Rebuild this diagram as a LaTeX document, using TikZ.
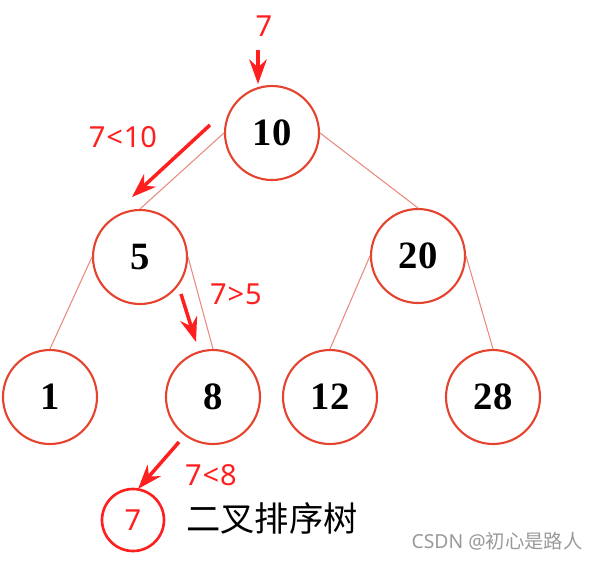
\documentclass[tikz,border=0pt]{standalone}
\usepackage{fontspec}
\setmainfont{Liberation Serif}
\newfontfamily\labfont{Noto Sans}
\newfontfamily\cjk{Noto Sans CJK SC}
\usepackage{tikz}
\usetikzlibrary{arrows.meta}
\definecolor{circred}{HTML}{E6432F}
\definecolor{linkred}{HTML}{E98A7E}
\definecolor{arrred}{HTML}{FF1F1F}

\begin{document}
\begin{tikzpicture}[
		key/.style={circle, draw=circred, line width=1.2pt, minimum size=1.88cm, inner sep=0pt, font=\bfseries\fontsize{22}{22}\selectfont},
		link/.style={draw=linkred, line width=0.6pt},
		cmp/.style={text=arrred, font=\labfont\fontsize{16.5}{16.5}\selectfont},
		go/.style={arrred, line width=2pt, -{Stealth[length=14pt,width=10pt]}}
	]
		\useasboundingbox (0,0) rectangle (11.98,-11.22);
		\node[key] (N10) at (5.44, -2.66) {10};
		\node[key] (N5) at (2.80, -5.14) {5}; \node[key] (N20) at (8.36, -5.12) {20};
		\node[key] (N1) at (1.00, -7.94) {1}; \node[key] (N8) at (4.26, -7.94) {8};
		\node[key] (N12) at (6.60, -7.94) {12}; \node[key] (N28) at (9.86, -7.94) {28};
		%
		\node[circle, draw=arrred, line width=1.5pt, minimum size=1.24cm, inner sep=0pt, cmp] (N7) at (2.66, -10.40) {7}; % Inserted key
		\node[font=\cjk\fontsize{19.5}{19.5}\selectfont] (title) at (5.44, -10.36) {二叉排序树};
		\node[text=black!40, font=\labfont\fontsize{11}{11}\selectfont] (mark) at (9.94, -10.82) {CSDN @\cjk 初心是路人};
		%
		\node[cmp] (L1) at (5.28, -0.52) {7};
		\node[cmp] (L2) at (2.46, -2.74) {7\kern.5pt<\kern.5pt10};
		\node[cmp] (L3) at (4.72, -5.88) {7\kern.5pt>\kern.5pt5};
		\node[cmp] (L4) at (4.22, -9.50) {7\kern.5pt<\kern.5pt8};
		% Search path
		\coordinate (A1) at (5.16, -1.00); \coordinate (B1) at (5.16, -1.68);
		\coordinate (A2) at (4.20, -2.50); \coordinate (B2) at (2.64, -3.94);
		\coordinate (A3) at (3.62, -5.88); \coordinate (B3) at (3.92, -6.84);
		\coordinate (A4) at (3.58, -8.84); \coordinate (B4) at (2.76, -9.78);
		% Drawing the edges
		\draw[link] (N10.west) -- (N5.north); \draw[link] (N10.east) -- (N20.north);
		\draw[link] (N5.west) -- (N1.north); \draw[link] (N5.east) -- (N8.north);
		\draw[link] (N20.west) -- (N12.north); \draw[link] (N20.east) -- (N28.north);
		%% Arrows
		\draw[go] (A1) -- (B1); \draw[go] (A2) -- (B2);
		\draw[go] (A3) -- (B3); \draw[go] (A4) -- (B4);
	\end{tikzpicture}
\end{document}
